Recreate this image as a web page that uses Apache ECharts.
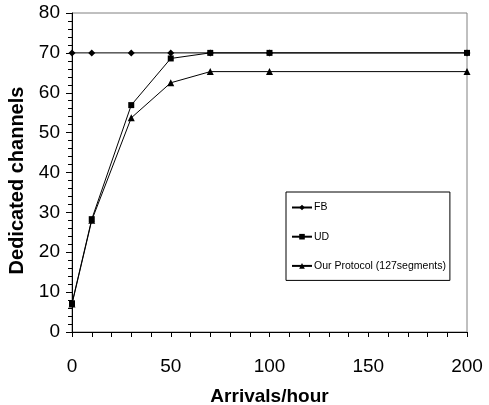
<!DOCTYPE html>
<html>
<head>
<meta charset="utf-8">
<script src="https://cdn.jsdelivr.net/npm/echarts@6/dist/echarts.min.js"></script>
<style>html,body{margin:0;padding:0;background:#fff;}#c{width:489px;height:405px;}</style>
</head>
<body>
<div id="c"></div>
<script>
const arrivals = [0, 10, 30, 50, 70, 100, 200];
const fbValues = [70, 70, 70, 70, 70, 70, 70];
const udValues = [7.2, 28.3, 56.9, 68.6, 70, 70, 70];
const protocolValues = [7.0, 28.0, 53.7, 62.5, 65.3, 65.3, 65.3];
const seriesNames = ['FB', 'UD', 'Our Protocol (127segments)'];

const pairs = (vals) => arrivals.map((x, i) => [x, vals[i]]);
const font = 'Liberation Sans, Arial, sans-serif';

const chart = echarts.init(document.getElementById('c'), null, {renderer: 'canvas'});
chart.setOption({
  animation: false,
  backgroundColor: '#fff',
  grid: {left: 72, right: 22, top: 13, bottom: 73, show: true, borderColor: '#808080', borderWidth: 1,
         containLabel: false, outerBoundsMode: 'none'},
  legend: {
    orient: 'vertical', left: 286, top: 192,
    data: seriesNames,
    backgroundColor: '#fff', borderColor: '#000', borderWidth: 1,
    padding: [9, 4, 8, 5], itemGap: 16.2, itemWidth: 20, itemHeight: 7,
    textStyle: {fontFamily: font, fontSize: 10.5, lineHeight: 13, color: '#000', padding: [0, 0, 0, -3]}
  },
  xAxis: {
    type: 'value', min: 0, max: 200, interval: 50,
    name: 'Arrivals/hour', nameLocation: 'middle', nameGap: 55,
    nameTextStyle: {fontFamily: font, fontSize: 19, fontWeight: 'bold', color: '#000'},
    axisLine: {lineStyle: {color: '#000', width: 1}},
    axisTick: {length: 5, lineStyle: {color: '#000'}},
    minorTick: {show: true, splitNumber: 5, length: 5, lineStyle: {color: '#000'}},
    splitLine: {show: false},
    axisLabel: {fontFamily: font, fontSize: 19, color: '#000', margin: 25}
  },
  yAxis: {
    type: 'value', min: 0, max: 80, interval: 10,
    name: 'Dedicated channels', nameLocation: 'middle', nameGap: 40,
    nameTextStyle: {fontFamily: font, fontSize: 20, fontWeight: 'bold', color: '#000', padding: [0, 16, 0, 0]},
    axisLine: {show: true, lineStyle: {color: '#000', width: 1}},
    axisTick: {show: true, length: 6, lineStyle: {color: '#000'}},
    minorTick: {show: true, splitNumber: 5, length: 4, lineStyle: {color: '#000'}},
    splitLine: {show: false},
    axisLabel: {fontFamily: font, fontSize: 19, color: '#000', margin: 12}
  },
  series: [
    {name: seriesNames[0], type: 'line', data: pairs(fbValues), symbol: 'diamond', symbolSize: 7,
     itemStyle: {color: '#000'}, lineStyle: {color: '#000', width: 1}},
    {name: seriesNames[1], type: 'line', data: pairs(udValues), symbol: 'rect', symbolSize: 6,
     itemStyle: {color: '#000'}, lineStyle: {color: '#000', width: 1}},
    {name: seriesNames[2], type: 'line', data: pairs(protocolValues), symbol: 'triangle', symbolSize: 7,
     itemStyle: {color: '#000'}, lineStyle: {color: '#000', width: 1}}
  ]
});
</script>
</body>
</html>
